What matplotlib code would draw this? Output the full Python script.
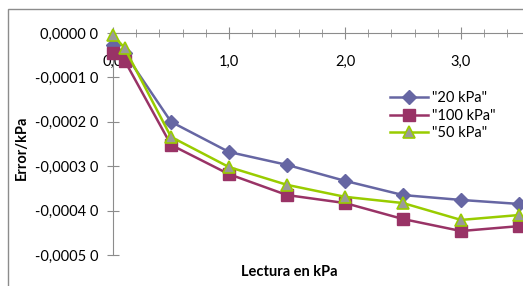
import matplotlib.pyplot as plt
from matplotlib.patches import Rectangle
from matplotlib.ticker import MultipleLocator

# lecturas (kPa) y error por kPa para cada serie
lectura = [0.0, 0.1, 0.5, 1.0, 1.5, 2.0, 2.5, 3.0, 3.5]
err_20 = [-0.000027, -0.000045, -0.000200, -0.000268, -0.000297, -0.000333, -0.000365, -0.000376, -0.000385]
err_100 = [-0.000045, -0.000062, -0.000252, -0.000318, -0.000365, -0.000383, -0.000419, -0.000446, -0.000435]
err_50 = [-0.000004, -0.000034, -0.000234, -0.000302, -0.000342, -0.000369, -0.000383, -0.000421, -0.000410]

ytick_vals = [0.0, -0.0001, -0.0002, -0.0003, -0.0004, -0.0005]
ytick_text = ["0,0000 0", "-0,0001 0", "-0,0002 0", "-0,0003 0", "-0,0004 0", "-0,0005 0"]
xtick_vals = [0.0, 1.0, 2.0, 3.0]
xtick_text = ["0,0", "1,0", "2,0", "3,0"]

plt.rcParams['font.family'] = ['Lato', 'DejaVu Sans']
plt.rcParams['font.size'] = 10.5

W, H = 523, 286
fig = plt.figure(figsize=(W / 100, H / 100), dpi=100)

# marco exterior del grafico
fig.patches.append(Rectangle((8 / W, -0.2), 2.0, 1.2 - 9 / H, transform=fig.transFigure,
                             fill=False, edgecolor='#8c8c8c', linewidth=1.0))

ax = fig.add_axes([113 / W, 1 - 255 / H, 1 - 113 / W, (255 - 33) / H])
ax.set_xlim(0, (W - 113) / 116)
ax.set_ylim(-0.0005, 0)

ax.plot(lectura, err_20, color='#6666a3', marker='D', markersize=7.5, linewidth=1.8,
        label='"20 kPa"', clip_on=False, zorder=3)
ax.plot(lectura, err_100, color='#993366', marker='s', markersize=8, linewidth=1.8,
        label='"100 kPa"', clip_on=False, zorder=4)
ax.plot(lectura, err_50, color='#99cc00', marker='^', markersize=9, linewidth=1.8,
        markerfacecolor='#9a9a9a', markeredgecolor='#99cc00', markeredgewidth=1.2,
        label='"50 kPa"', clip_on=False, zorder=5)

# eje x en y=0 (arriba), etiquetas debajo de la linea
for s in ['right', 'top']:
    ax.spines[s].set_visible(False)
ax.spines['bottom'].set_position(('data', 0))
ax.spines['bottom'].set_color('#8c8c8c')
ax.spines['left'].set_color('#8c8c8c')

ax.set_xticks(xtick_vals)
ax.set_xticklabels(xtick_text)
ax.xaxis.set_minor_locator(MultipleLocator(0.2))
ax.tick_params(axis='x', which='major', direction='inout', length=9, color='#8c8c8c', pad=11)
ax.tick_params(axis='x', which='minor', direction='inout', length=6, color='#8c8c8c')
ax.set_yticks(ytick_vals)
ax.set_yticklabels(ytick_text)
ax.tick_params(axis='y', direction='inout', length=9, color='#8c8c8c', pad=6)

fig.text(22 / W, 1 - 148 / H, 'Error/kPa', rotation=90, ha='center', va='center',
         fontweight='bold', fontsize=10.5)
fig.text(289 / W, 1 - 272 / H, 'Lectura en kPa', ha='center', va='center',
         fontweight='bold', fontsize=10.5)

ax.legend(loc='upper left', bbox_to_anchor=(390 / W, 1 - 91 / H), bbox_transform=fig.transFigure,
          frameon=False, handlelength=2.6, handletextpad=0.3, labelspacing=0.25,
          borderaxespad=0, borderpad=0, fontsize=10.5)

fig.savefig('out.png', dpi=100)
